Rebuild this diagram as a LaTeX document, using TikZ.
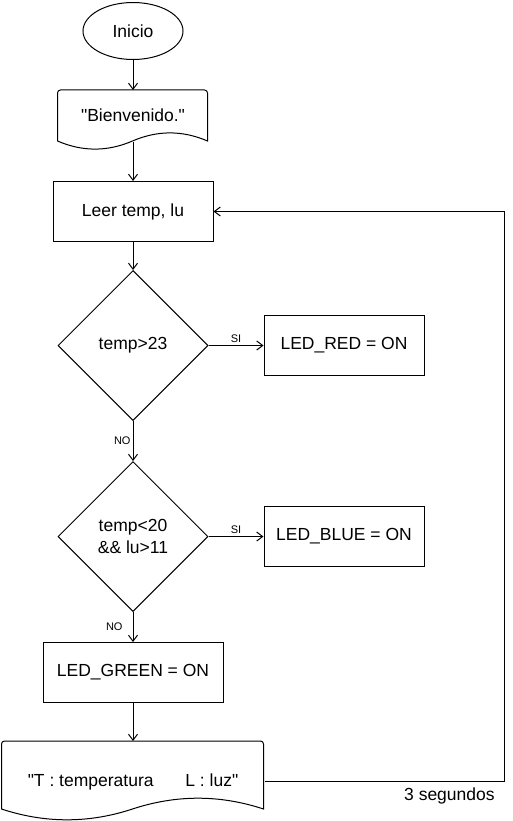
\documentclass[tikz,border=0pt]{standalone}
\usepackage{fontspec}
\setmainfont{Liberation Sans}
\usetikzlibrary{arrows.meta,positioning,shapes.geometric,calc}
% contorno de documento: #1 nodo, #2 ancho, #3 alto
\newcommand{\docborde}[3]{%
  \draw[shift={(#1.north west)}]
    (0,{0.85*#3}) [rounded corners=3pt] -- (0,0) -- (#2,0) [sharp corners] -- (#2,{0.85*#3})
    .. controls ({5*#2/6},{0.67*#3}) and ({2*#2/3},{0.67*#3}) .. ({#2/2},{0.85*#3})
    .. controls ({#2/3},{1.03*#3}) and ({#2/6},{1.03*#3}) .. (0,{0.85*#3}) -- cycle;
  \coordinate (#1-pie) at ($(#1.north)!0.85!(#1.south)$);}
\tikzset{
  txt/.style={font=\fontsize{17.5}{22}\selectfont},
  caja/.style={draw,txt,minimum width=160pt,minimum height=60pt,inner sep=2pt},
  term/.style={draw,txt,ellipse,minimum width=100pt,minimum height=57pt,inner sep=0pt},
  decis/.style={draw,txt,diamond,minimum width=150pt,minimum height=150pt,inner sep=0pt,align=center},
  docu/.style={txt,inner sep=2pt},
  etiq/.style={font=\fontsize{11}{13}\selectfont,inner sep=2pt},
  >={Straight Barb[length=6pt,width=9pt]}
}

\begin{document}
\begin{tikzpicture}[x=1pt,y=-1pt,line width=1pt]
  \useasboundingbox (0,0) rectangle (513,821);
  \node[term] (ini) at (133,31) {Inicio};
  \node[docu,minimum width=150pt,minimum height=60pt,text depth=10pt,below=30pt of ini] (bien) {\textquotedbl Bienvenido.\textquotedbl};
  \docborde{bien}{150}{60}
  \node[caja,below=30pt of bien] (leer) {Leer temp, lu};
  \node[decis,below=28pt of leer] (c1) {temp>23};
  \node[caja,right=55pt of c1] (rojo) {LED\_RED = ON};
  \node[decis,below=40pt of c1] (c2) {temp<20\\ \&\& lu>11};
  \node[caja,right=55pt of c2] (azul) {LED\_BLUE = ON};
  \node[caja,minimum width=180pt,below=30pt of c2] (verde) {LED\_GREEN = ON};
  \node[docu,minimum width=262pt,minimum height=80pt,below=38pt of verde] (sal) {\textquotedbl T : temperatura \hspace{22pt} L : luz\textquotedbl};
  \docborde{sal}{262}{80}

  \draw[->] (ini) -- (bien);
  \draw[->] (bien-pie) -- (leer);
  \draw[->] (leer) -- (c1);
  \draw[->] (c1) -- node[etiq,above] {SI} (rojo);
  \draw[->] (c1) -- node[etiq,left] {NO} (c2);
  \draw[->] (c2) -- node[etiq,above] {SI} (azul);
  \draw[->] (c2) -- node[etiq,left,xshift=-8pt] {NO} (verde);
  \draw[->] (verde) -- (sal);
  \draw[->] (sal.east) -- ++(240,0) node[txt,below left,xshift=-6pt,yshift=-2pt] {3 segundos} |- (leer.east);
\end{tikzpicture}
\end{document}
